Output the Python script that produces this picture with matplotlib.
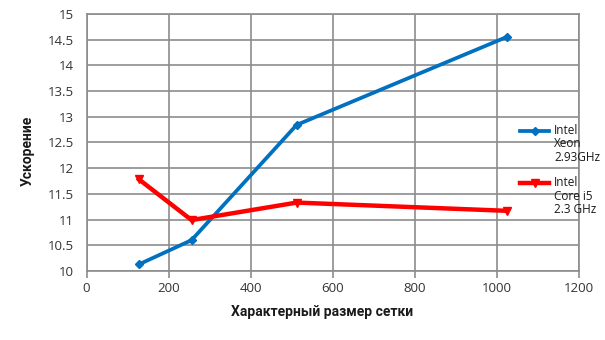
import matplotlib
matplotlib.use("Agg")
import matplotlib.pyplot as plt
from matplotlib.lines import Line2D

plt.rcParams['font.family'] = ['Open Sans', 'DejaVu Sans']

grid_sizes = [128, 256, 512, 1024]
xeon = [10.13, 10.60, 12.84, 14.55]
core_i5 = [11.78, 10.99, 11.33, 11.17]
labels = ["Intel\nXeon\n2.93GHz", "Intel\nCore i5\n2.3 GHz"]
x_ticks = [0, 200, 400, 600, 800, 1000, 1200]
y_ticks = [10, 10.5, 11, 11.5, 12, 12.5, 13, 13.5, 14, 14.5, 15]

W, H = 605, 340
fig = plt.figure(figsize=(6.05, 3.4), dpi=100)
ax = fig.add_axes([86.5/W, (H-271)/H, (579-86.5)/W, (271-13.8)/H])

series = [
    (xeon, '#0070C0', 'D', 4, 2.7),
    (core_i5, '#FF0000', 'v', 6, 3.2),
]
for vals, c, m, ms, lw in series:
    ax.plot(grid_sizes, vals, color=c, lw=lw, marker=m, ms=ms, zorder=3,
            solid_joinstyle='miter')

ax.set_xlim(0, 1200)
ax.set_ylim(10, 15)
ax.set_xticks(x_ticks)
ax.set_yticks(y_ticks)
ax.set_yticklabels([f"{v:g}" for v in y_ticks])
ax.grid(True, color='#8c8c8c', lw=1.2)
ax.set_axisbelow(True)
for s in ax.spines.values():
    s.set_color('#8c8c8c')
    s.set_linewidth(1.2)
ax.tick_params(axis='both', labelsize=9.5, labelcolor='#333333', color='#8c8c8c', width=1.2)
ax.tick_params(axis='y', length=0, pad=9)
ax.tick_params(axis='x', direction='out', length=5, pad=3)

fig.text(322/W, 1 - 312/H, "Характерный размер сетки", fontsize=10, fontweight='bold',
         family=['Roboto', 'DejaVu Sans'], ha='center', va='center', color='#1a1a1a')
fig.text(28/W, 1 - 151/H, "Ускорение", fontsize=10, fontweight='bold', rotation=90,
         family=['Roboto', 'DejaVu Sans'], ha='center', va='center', color='#1a1a1a')

# legend drawn manually (handle aligned with the first label line)
leg_y = [131, 183]
for (vals, c, m, ms, lw), lab, y in zip(series, labels, leg_y):
    yf = 1 - y/H
    fig.add_artist(Line2D([520/W, 549/W], [yf, yf], color=c, lw=lw,
                          transform=fig.transFigure))
    fig.add_artist(Line2D([534.5/W], [yf], color=c, marker=m, ms=ms, lw=0,
                          transform=fig.transFigure))
    fig.text(554/W, yf + 7/H, lab, fontsize=8.5, ha='left', va='top',
             linespacing=1.05, color='#1a1a1a')

fig.savefig("out.png", dpi=100)
